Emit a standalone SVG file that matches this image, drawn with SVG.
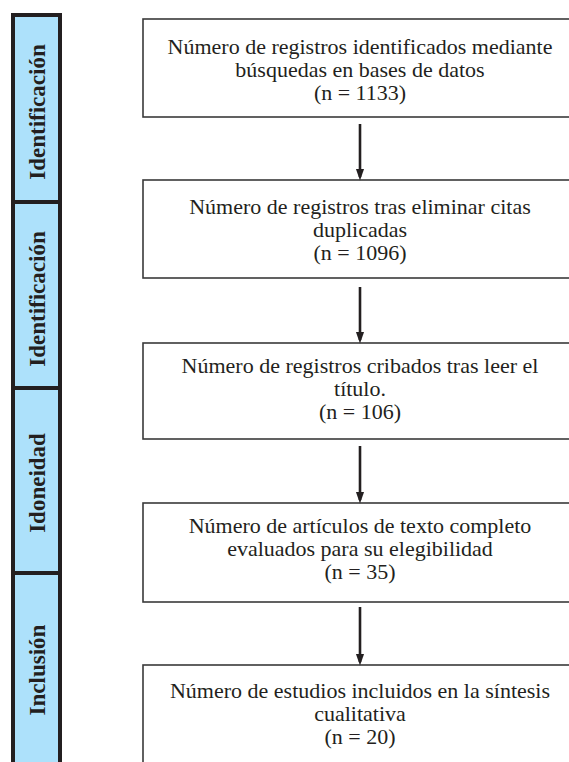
<svg xmlns="http://www.w3.org/2000/svg" width="569" height="762" viewBox="0 0 569 762">
<defs>
<style>
.side{fill:#ade1fb;stroke:#231f20;stroke-width:4}
.stage{font-family:"Liberation Serif","Times New Roman",serif;font-weight:bold;font-size:23px;fill:#231f20;text-anchor:middle}
.box{fill:#ffffff;stroke:#3a3a3a;stroke-width:1.6}
.txt{font-family:"Liberation Serif","Times New Roman",serif;font-size:22px;fill:#231f20;text-anchor:middle}
.conn{stroke:#231f20;stroke-width:2.6;fill:none}
</style>
<marker id="ah" markerWidth="12" markerHeight="17" refX="12" refY="6" orient="auto" markerUnits="userSpaceOnUse" viewBox="0 0 17 12">
<path d="M0,0 L17,6 L0,12 Z" fill="#231f20"/>
</marker>
</defs>
<rect width="569" height="762" fill="#ffffff"/>

<g id="stage-identificacion-1">
<rect class="side" x="13" y="15" width="47" height="187"/>
<text class="stage" transform="translate(45,112) rotate(-90)">Identificación</text>
</g>
<g id="stage-identificacion-2">
<rect class="side" x="13" y="202" width="47" height="186"/>
<text class="stage" transform="translate(45,299) rotate(-90)">Identificación</text>
</g>
<g id="stage-idoneidad">
<rect class="side" x="13" y="388" width="47" height="185"/>
<text class="stage" transform="translate(45,483) rotate(-90)">Idoneidad</text>
</g>
<g id="stage-inclusion">
<rect class="side" x="13" y="573" width="47" height="200"/>
<text class="stage" transform="translate(45,670) rotate(-90)">Inclusión</text>
</g>

<g id="box1">
<rect class="box" x="143" y="19" width="440" height="98"/>
<text class="txt" x="360" y="54">Número de registros identificados mediante</text>
<text class="txt" x="360" y="77">búsquedas en bases de datos</text>
<text class="txt" x="360" y="100">(n = 1133)</text>
</g>
<g id="box2">
<rect class="box" x="143" y="180" width="440" height="98"/>
<text class="txt" x="360" y="214">Número de registros tras eliminar citas</text>
<text class="txt" x="360" y="237">duplicadas</text>
<text class="txt" x="360" y="260">(n = 1096)</text>
</g>
<g id="box3">
<rect class="box" x="143" y="343" width="440" height="96"/>
<text class="txt" x="360" y="373">Número de registros cribados tras leer el</text>
<text class="txt" x="360" y="396">título.</text>
<text class="txt" x="360" y="419">(n = 106)</text>
</g>
<g id="box4">
<rect class="box" x="143" y="503" width="440" height="99"/>
<text class="txt" x="360" y="533">Número de artículos de texto completo</text>
<text class="txt" x="360" y="556">evaluados para su elegibilidad</text>
<text class="txt" x="360" y="579">(n = 35)</text>
</g>
<g id="box5">
<rect class="box" x="143" y="665" width="440" height="110"/>
<text class="txt" x="360" y="698">Número de estudios incluidos en la síntesis</text>
<text class="txt" x="360" y="721">cualitativa</text>
<text class="txt" x="360" y="744">(n = 20)</text>
</g>

<g id="connectors">
<line class="conn" x1="360" y1="124" x2="360" y2="177" marker-end="url(#ah)"/>
<line class="conn" x1="360" y1="287" x2="360" y2="340" marker-end="url(#ah)"/>
<line class="conn" x1="360" y1="446" x2="360" y2="500" marker-end="url(#ah)"/>
<line class="conn" x1="360" y1="607" x2="360" y2="662" marker-end="url(#ah)"/>
</g>
</svg>
